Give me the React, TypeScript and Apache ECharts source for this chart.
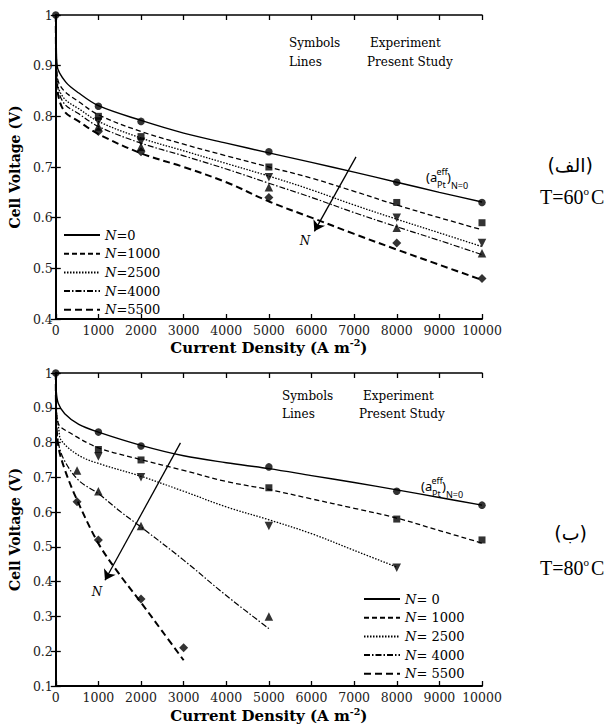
import React, { useEffect, useRef } from 'react';
import * as echarts from 'echarts';

const FONT = 'DejaVu Serif';

// ---------- T = 60 °C (top) ----------
const topNames = ['N=0', 'N=1000', 'N=2500', 'N=4000', 'N=5500'];
const topLineN0 = [[0, 1], [10, 0.95], [30, 0.9], [230, 0.868], [540, 0.846], [1000, 0.821], [2000, 0.792], [3000, 0.767], [4000, 0.747], [5000, 0.728], [6000, 0.709], [7000, 0.69], [8000, 0.67], [9000, 0.65], [10000, 0.631]];
const topLineN1000 = [[0, 1], [10, 0.93], [40, 0.875], [200, 0.85], [540, 0.829], [1000, 0.803], [2000, 0.77], [3000, 0.745], [4000, 0.722], [5000, 0.7], [6000, 0.678], [7000, 0.652], [8000, 0.625], [9000, 0.6], [10000, 0.576]];
const topLineN2500 = [[0, 1], [10, 0.92], [40, 0.865], [200, 0.835], [540, 0.815], [1000, 0.79], [2000, 0.757], [3000, 0.732], [4000, 0.707], [5000, 0.682], [6000, 0.655], [7000, 0.625], [8000, 0.597], [9000, 0.57], [10000, 0.543]];
const topLineN4000 = [[0, 1], [10, 0.91], [40, 0.86], [200, 0.825], [540, 0.805], [1000, 0.78], [2000, 0.747], [3000, 0.722], [4000, 0.696], [5000, 0.668], [6000, 0.64], [7000, 0.61], [8000, 0.582], [9000, 0.555], [10000, 0.527]];
const topLineN5500 = [[0, 1], [10, 0.9], [40, 0.85], [200, 0.81], [540, 0.79], [1000, 0.765], [2000, 0.727], [3000, 0.7], [4000, 0.67], [5000, 0.632], [6000, 0.6], [7000, 0.568], [8000, 0.537], [9000, 0.507], [10000, 0.477]];

const topExpX0 = [0, 1000, 2000, 5000, 8000, 10000];
const topExpN0 = [1, 0.82, 0.79, 0.73, 0.67, 0.63];
const topExpX = [1000, 2000, 5000, 8000, 10000];
const topExpN1000 = [0.8, 0.76, 0.7, 0.63, 0.59];
const topExpN2500 = [0.79, 0.75, 0.68, 0.6, 0.55];
const topExpN4000 = [0.78, 0.74, 0.66, 0.58, 0.53];
const topExpN5500 = [0.77, 0.73, 0.64, 0.55, 0.48];
const topArrow = [[7044, 0.72], [6067, 0.573]];

// ---------- T = 80 °C (bottom) ----------
const botNames = ['N= 0', 'N= 1000', 'N= 2500', 'N= 4000', 'N= 5500'];
const botLineN0 = [[0, 1], [10, 0.95], [60, 0.912], [210, 0.883], [540, 0.852], [1000, 0.83], [2000, 0.792], [3000, 0.762], [4000, 0.742], [5000, 0.725], [6000, 0.705], [7000, 0.685], [8000, 0.664], [9000, 0.642], [10000, 0.62]];
const botLineN1000 = [[0, 1], [10, 0.92], [60, 0.855], [360, 0.826], [1000, 0.785], [2000, 0.751], [3000, 0.72], [4000, 0.688], [5000, 0.665], [6000, 0.638], [7000, 0.611], [8000, 0.583], [9000, 0.547], [10000, 0.511]];
const botLineN2500 = [[0, 1], [10, 0.9], [70, 0.84], [130, 0.806], [540, 0.763], [1000, 0.74], [2000, 0.703], [3000, 0.66], [4000, 0.615], [5000, 0.578], [6000, 0.538], [7000, 0.49], [8000, 0.442]];
const botLineN4000 = [[0, 1], [10, 0.88], [60, 0.8], [200, 0.749], [540, 0.691], [1000, 0.653], [1500, 0.603], [2000, 0.557], [3000, 0.462], [4000, 0.36], [5000, 0.265]];
const botLineN5500 = [[0, 1], [10, 0.87], [60, 0.79], [190, 0.73], [470, 0.643], [1000, 0.51], [1500, 0.42], [2000, 0.34], [2500, 0.257], [3000, 0.174]];

const botExpX0 = [0, 1000, 2000, 5000, 8000, 10000];
const botExpN0 = [1, 0.83, 0.79, 0.73, 0.66, 0.62];
const botExpX1000 = [1000, 2000, 5000, 8000, 10000];
const botExpN1000 = [0.78, 0.75, 0.67, 0.58, 0.52];
const botExpX2500 = [1000, 2000, 5000, 8000];
const botExpN2500 = [0.76, 0.7, 0.56, 0.44];
const botExpX4000 = [500, 1000, 2000, 5000];
const botExpN4000 = [0.72, 0.66, 0.56, 0.3];
const botExpX5500 = [500, 1000, 2000, 3000];
const botExpN5500 = [0.63, 0.52, 0.35, 0.21];
const botArrow = [[2925, 0.799], [1155, 0.404]];

const lineTypes: any[] = [
  { type: 'solid', width: 1.4 },
  { type: [5, 3], width: 1.3 },
  { type: [1.5, 1.5], width: 1.3 },
  { type: [6, 2, 1.5, 2], width: 1.2 },
  { type: [7, 4], width: 2 },
];
const markers: any[] = [
  { symbol: 'circle', size: 7.5, rotate: 0 },
  { symbol: 'rect', size: 7, rotate: 0 },
  { symbol: 'triangle', size: 8.5, rotate: 180 },
  { symbol: 'triangle', size: 8.5, rotate: 0 },
  { symbol: 'diamond', size: 9, rotate: 0 },
];

const zip = (xs: number[], ys: number[]) => xs.map((x, i) => [x, ys[i]]);

function App() {
  const ref = useRef<HTMLDivElement>(null);
  useEffect(() => {
    const chart = echarts.init(ref.current!, null, { renderer: 'svg' });

    const yFmt = (v: number) => (Math.abs(v - 1) < 1e-9 ? '1' : v.toFixed(1));
    const xFmt = (v: number) => String(Math.round(v));
    const labelStyle = { fontFamily: FONT, fontSize: 12.5, color: '#222' };

    const xAxes: any[] = [];
    const yAxes: any[] = [];
    [0, 1].forEach((g) => {
      xAxes.push({
        type: 'value', gridIndex: g, min: 0, max: 10000, interval: 1000, position: 'bottom',
        axisLine: { lineStyle: { color: '#000', width: 2 } },
        axisTick: { inside: true, length: 5, lineStyle: { color: '#000', width: 1.3 } },
        axisLabel: { ...labelStyle, margin: 5, formatter: xFmt },
        splitLine: { show: false },
        name: '{b|Current Density (A m}{s|-2}{b|)}',
        nameLocation: 'middle', nameGap: g === 0 ? 10 : 20,
        nameTextStyle: {
          rich: {
            b: { fontFamily: FONT, fontWeight: 'bold', fontSize: 15, color: '#000', lineHeight: 20 },
            s: { fontFamily: FONT, fontWeight: 'bold', fontSize: 9.5, color: '#000', lineHeight: 12, verticalAlign: 'top' },
          },
        },
      });
      xAxes.push({
        type: 'value', gridIndex: g, min: 0, max: 10000, interval: 1000, position: 'top',
        axisLine: { lineStyle: { color: '#000', width: 1.5 } },
        axisTick: { inside: true, length: 5, lineStyle: { color: '#000', width: 1.3 } },
        axisLabel: { show: false }, splitLine: { show: false },
      });
      const ymin = g === 0 ? 0.4 : 0.1;
      yAxes.push({
        type: 'value', gridIndex: g, min: ymin, max: 1, interval: 0.1, position: 'left',
        axisLine: { lineStyle: { color: '#000', width: 2 } },
        axisTick: { inside: true, length: 5, lineStyle: { color: '#000', width: 1.3 } },
        axisLabel: { ...labelStyle, margin: 3, formatter: yFmt },
        splitLine: { show: false },
        name: 'Cell Voltage (V)', nameLocation: 'middle', nameGap: 30,
        nameTextStyle: { fontFamily: FONT, fontWeight: 'bold', fontSize: 14, color: '#000' },
      });
      yAxes.push({
        type: 'value', gridIndex: g, min: ymin, max: 1, interval: 0.1, position: 'right',
        axisLine: { lineStyle: { color: '#000', width: 1.5 } },
        axisTick: { inside: true, length: 5, lineStyle: { color: '#000', width: 1.3 } },
        axisLabel: { show: false }, splitLine: { show: false },
      });
    });

    const series: any[] = [];
    const addLines = (g: number, names: string[], lines: number[][][], arrow: number[][]) => {
      lines.forEach((d, i) => {
        const s: any = {
          type: 'line', name: names[i], xAxisIndex: g * 2, yAxisIndex: g * 2, data: d,
          smooth: 0.35, symbol: 'none', silent: true, z: 2,
          lineStyle: { color: '#000', ...lineTypes[i] }, itemStyle: { color: '#000' },
        };
        if (i === 0) {
          s.markLine = {
            silent: true, symbol: ['none', 'arrow'], symbolSize: 10,
            lineStyle: { color: '#000', width: 1.3, type: 'solid' }, label: { show: false },
            emphasis: { disabled: true },
            data: [[{ coord: arrow[0] }, { coord: arrow[1] }]],
          };
        }
        series.push(s);
      });
    };
    const addPoints = (g: number, pts: number[][][]) => {
      pts.forEach((d, i) => {
        series.push({
          type: 'scatter', name: 'exp' + g + '_' + i, xAxisIndex: g * 2, yAxisIndex: g * 2, data: d,
          symbol: markers[i].symbol, symbolSize: markers[i].size, symbolRotate: markers[i].rotate,
          itemStyle: { color: '#000' }, silent: true, z: 3,
        });
      });
    };
    addLines(0, topNames, [topLineN0, topLineN1000, topLineN2500, topLineN4000, topLineN5500], topArrow);
    addPoints(0, [zip(topExpX0, topExpN0), zip(topExpX, topExpN1000), zip(topExpX, topExpN2500), zip(topExpX, topExpN4000), zip(topExpX, topExpN5500)]);
    addLines(1, botNames, [botLineN0, botLineN1000, botLineN2500, botLineN4000, botLineN5500], botArrow);
    addPoints(1, [zip(botExpX0, botExpN0), zip(botExpX1000, botExpN1000), zip(botExpX2500, botExpN2500), zip(botExpX4000, botExpN4000), zip(botExpX5500, botExpN5500)]);

    const legendBase = {
      orient: 'vertical', selectedMode: false, itemWidth: 36, itemHeight: 10, itemGap: 4.7,
      itemStyle: { opacity: 0 },
      formatter: (n: string) => '{i|N}' + n.slice(1),
      textStyle: {
        fontFamily: FONT, fontSize: 13, color: '#000', lineHeight: 14,
        rich: { i: { fontFamily: FONT, fontStyle: 'italic', fontSize: 13, color: '#000' } },
      },
    };

    const txt = (text: string, x: number, y: number, extra: any = {}) => ({
      type: 'text', x, y, silent: true,
      style: { text, fill: '#000', font: '12px "DejaVu Serif"', verticalAlign: 'middle', align: 'left', ...extra },
    });
    const small = '9px "Noto Sans"';
    const big = '13px "Noto Sans"';
    const aeff = (x: number, y: number) => [
      txt('(a', x, y, { font: big }),
      txt('eff', x + 10.5, y - 6, { font: small }),
      txt('Pt', x + 11, y + 7, { font: small }),
      txt(')', x + 21, y, { font: big }),
      txt('N=0', x + 25, y + 8, { font: small }),
    ];
    const temp = (label: string, x: number, y: number) => [
      txt(label, x, y, { font: '20px "Liberation Serif"' }),
      txt('o', x + 43.5, y - 6, { font: '11px "Liberation Serif"' }),
      txt('C', x + 51, y, { font: '20px "Liberation Serif"' }),
    ];

    const graphic: any[] = [
      txt('Symbols', 289, 43), txt('Lines', 289, 62),
      txt('Experiment', 370, 43), txt('Present Study', 367, 62),
      txt('Symbols', 282, 396), txt('Lines', 282, 414),
      txt('Experiment', 363, 396), txt('Present Study', 359, 414),
      txt('N', 305, 241, { font: 'italic 12px "DejaVu Serif"', align: 'center' }),
      txt('N', 97, 592, { font: 'italic 12px "DejaVu Serif"', align: 'center' }),
      ...aeff(426, 177),
      ...aeff(421, 486),
      txt('(الف)', 593, 165, { font: '19px "DejaVu Sans"', align: 'right' }),
      ...temp('T=60', 540, 197),
      txt('(ب)', 587, 533, { font: '19px "DejaVu Sans"', align: 'right' }),
      ...temp('T=80', 540, 568),
    ];

    chart.setOption({
      animation: false,
      backgroundColor: '#fff',
      grid: [
        { left: 50, right: 124, top: 15, height: 304 },
        { left: 50, right: 124, top: 373, height: 313 },
      ],
      xAxis: xAxes,
      yAxis: yAxes,
      legend: [
        { ...legendBase, data: topNames, left: 58, top: 223 },
        { ...legendBase, data: botNames, left: 358, top: 587 },
      ],
      series,
      graphic,
    });
    return () => chart.dispose();
  }, []);
  return <div ref={ref} style={{ position: 'fixed', left: 0, top: 0, width: 606, height: 726, background: '#fff' }} />;
}

export default App;
